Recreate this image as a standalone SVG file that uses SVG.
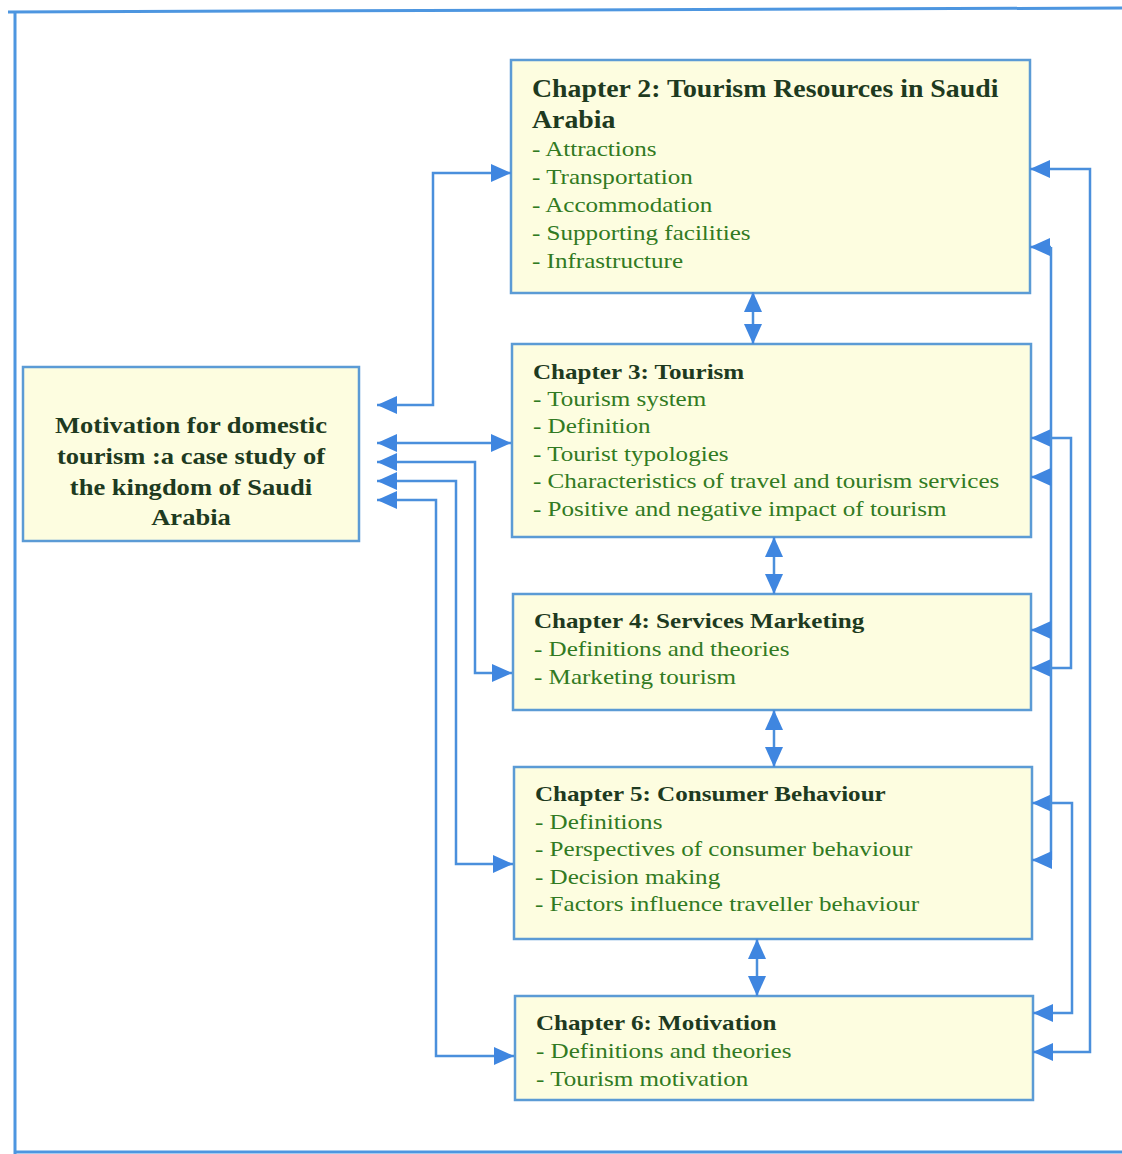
<svg xmlns="http://www.w3.org/2000/svg" width="1122" height="1154" viewBox="0 0 1122 1154">
<style>
.box{fill:#fdfde0;stroke:#5b9bd5;stroke-width:2.5}
.title{font-family:"Liberation Serif","Times New Roman",serif;font-weight:bold;font-size:22px;fill:#1e3a20}
.big{font-size:24.4px}
.item{font-family:"Liberation Serif","Times New Roman",serif;font-size:22px;fill:#317a22}
.main{font-family:"Liberation Serif","Times New Roman",serif;font-weight:bold;font-size:24px;fill:#1e3a20;text-anchor:middle}
.conn{fill:none;stroke:#4a8fdc;stroke-width:2.5}
.a{marker-end:url(#ah)}
.aa{marker-start:url(#ah);marker-end:url(#ah)}
</style>
<defs>
<marker id="ah" viewBox="0 0 20 18" refX="20" refY="9" markerWidth="20" markerHeight="18" markerUnits="userSpaceOnUse" orient="auto-start-reverse">
<path d="M0,0 L20,9 L0,18 z" fill="#3f86e0"/>
</marker>
</defs>
<rect width="1122" height="1154" fill="#ffffff"/>
<g id="frame" fill="none" stroke="#4d96e0" stroke-width="3">
<path d="M8,12 L1122,8"/>
<path d="M15,11 L15,1154"/>
<path d="M15,1152 L1122,1152"/>
</g>
<g id="main">
<rect class="box" x="23" y="367" width="336" height="174"/>
<g transform="matrix(1.105 0 0 1 -20.06 0)">
<text class="main" x="191" y="433">Motivation for domestic</text>
<text class="main" x="191" y="464">tourism :a case study of</text>
<text class="main" x="191" y="495">the kingdom of Saudi</text>
<text class="main" x="191" y="525">Arabia</text>
</g>
</g>
<g id="ch2">
<rect class="box" x="511" y="60" width="519" height="233"/>
<g transform="matrix(1.14 0 0 1 -74.48 0)">
<text class="title big" x="532" y="97">Chapter 2: Tourism Resources in Saudi</text>
<text class="title big" x="532" y="128">Arabia</text>
<text class="item" x="532" y="156">- Attractions</text>
<text class="item" x="532" y="184">- Transportation</text>
<text class="item" x="532" y="212">- Accommodation</text>
<text class="item" x="532" y="240">- Supporting facilities</text>
<text class="item" x="532" y="268">- Infrastructure</text>
</g>
</g>
<g id="ch3">
<rect class="box" x="512" y="344" width="519" height="193"/>
<g transform="matrix(1.14 0 0 1 -74.62 0)">
<text class="title" x="533" y="379">Chapter 3: Tourism</text>
<text class="item" x="533" y="406">- Tourism system</text>
<text class="item" x="533" y="433">- Definition</text>
<text class="item" x="533" y="461">- Tourist typologies</text>
<text class="item" x="533" y="488">- Characteristics of travel and tourism services</text>
<text class="item" x="533" y="516">- Positive and negative impact of tourism</text>
</g>
</g>
<g id="ch4">
<rect class="box" x="513" y="594" width="518" height="116"/>
<g transform="matrix(1.14 0 0 1 -74.76 0)">
<text class="title" x="534" y="628">Chapter 4: Services Marketing</text>
<text class="item" x="534" y="656">- Definitions and theories</text>
<text class="item" x="534" y="684">- Marketing tourism</text>
</g>
</g>
<g id="ch5">
<rect class="box" x="514" y="767" width="518" height="172"/>
<g transform="matrix(1.14 0 0 1 -74.9 0)">
<text class="title" x="535" y="801">Chapter 5: Consumer Behaviour</text>
<text class="item" x="535" y="829">- Definitions</text>
<text class="item" x="535" y="856">- Perspectives of consumer behaviour</text>
<text class="item" x="535" y="884">- Decision making</text>
<text class="item" x="535" y="911">- Factors influence traveller behaviour</text>
</g>
</g>
<g id="ch6">
<rect class="box" x="515" y="996" width="518" height="104"/>
<g transform="matrix(1.14 0 0 1 -75.04 0)">
<text class="title" x="536" y="1030">Chapter 6: Motivation</text>
<text class="item" x="536" y="1058">- Definitions and theories</text>
<text class="item" x="536" y="1086">- Tourism motivation</text>
</g>
</g>
<g id="connectors">
<path class="conn aa" d="M377,405 L433,405 L433,173 L511,173"/>
<path class="conn aa" d="M377,443 L511,443"/>
<path class="conn aa" d="M377,462 L475,462 L475,673 L512,673"/>
<path class="conn aa" d="M377,481 L456,481 L456,864 L513,864"/>
<path class="conn aa" d="M377,500 L436,500 L436,1056 L514,1056"/>
<path class="conn aa" d="M753,292 L753,344"/>
<path class="conn aa" d="M774,537 L774,594"/>
<path class="conn aa" d="M774,710 L774,767"/>
<path class="conn aa" d="M757,939 L757,996"/>
<path class="conn aa" d="M1030,169 L1090,169 L1090,1052 L1033,1052"/>
<path class="conn aa" d="M1031,438 L1071,438 L1071,668 L1031,668"/>
<path class="conn aa" d="M1032,803 L1072,803 L1072,1013 L1033,1013"/>
<path class="conn" d="M1051,247 L1051,860"/>
<path class="conn a" d="M1051,247 L1030,247"/>
<path class="conn a" d="M1051,477 L1031,477"/>
<path class="conn a" d="M1051,630 L1031,630"/>
<path class="conn a" d="M1051,860 L1032,860"/>
</g>
</svg>
